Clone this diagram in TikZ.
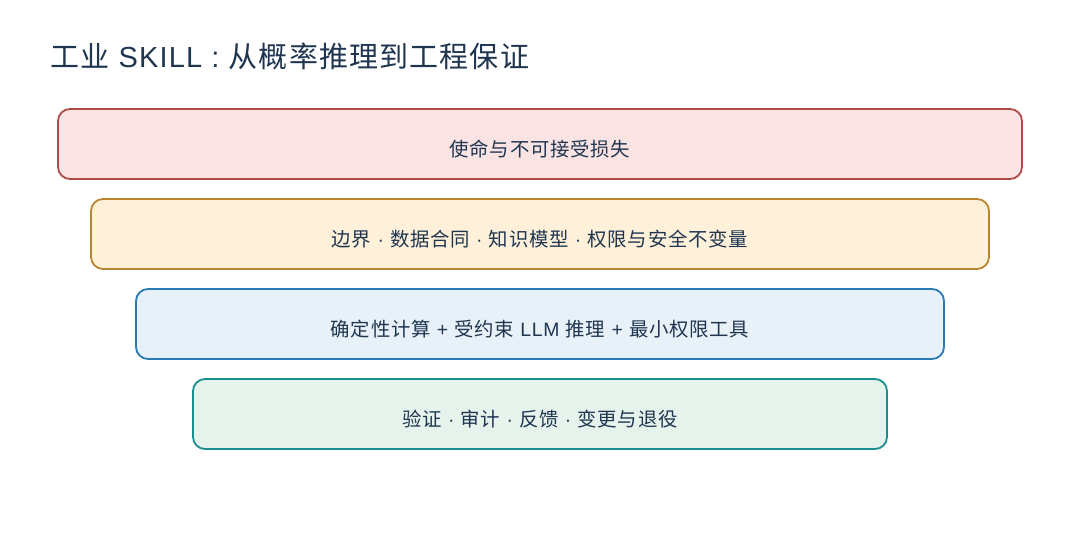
\documentclass[tikz,border=0pt]{standalone}
\usepackage{fontspec}
\setmainfont[LetterSpace=4]{Noto Sans CJK SC}
\newfontfamily\lat[LetterSpace=4]{Liberation Sans}
\begin{document}
\begin{tikzpicture}[x=1pt,y=-1pt,
  lay/.style={draw=#1,line width=1.8pt,rounded corners=12pt},
  lbl/.style={text=txt,font=\fontsize{19.4}{22}\selectfont,anchor=center}]
\definecolor{txt}{HTML}{1F3550}
\definecolor{f1}{HTML}{FAE3E3}\definecolor{s1}{HTML}{B04A4A}
\definecolor{f2}{HTML}{FEF0D9}\definecolor{s2}{HTML}{B8862E}
\definecolor{f3}{HTML}{E8F0F8}\definecolor{s3}{HTML}{2A7AB8}
\definecolor{f4}{HTML}{E6F3EC}\definecolor{s4}{HTML}{1A8F8F}
\newcommand\dt{{\lat\ ·\ }}
\useasboundingbox[fill=white] (0,0) rectangle (1080,540);
\node[anchor=base west,text=txt,font=\fontsize{29}{34}\selectfont,inner sep=0] (title) at (50,68) {工业{\lat\ SKILL : }从概率推理到工程保证};
\draw[lay=s1,fill=f1] (58,109) rectangle (1022,179);
\node[lbl] (t1) at (540,149) {使命与不可接受损失};
\draw[lay=s2,fill=f2] (91,199) rectangle (989,269);
\node[lbl] (t2) at (540,239) {边界\dt 数据合同\dt 知识模型\dt 权限与安全不变量};
\draw[lay=s3,fill=f3] (136,289) rectangle (944,359);
\node[lbl] (t3) at (540,329) {确定性计算{\lat\ + }受约束{\lat\ LLM }推理{\lat\ + }最小权限工具};
\draw[lay=s4,fill=f4] (193,379) rectangle (887,449);
\node[lbl] (t4) at (540,419) {验证\dt 审计\dt 反馈\dt 变更与退役};
\end{tikzpicture}
\end{document}
